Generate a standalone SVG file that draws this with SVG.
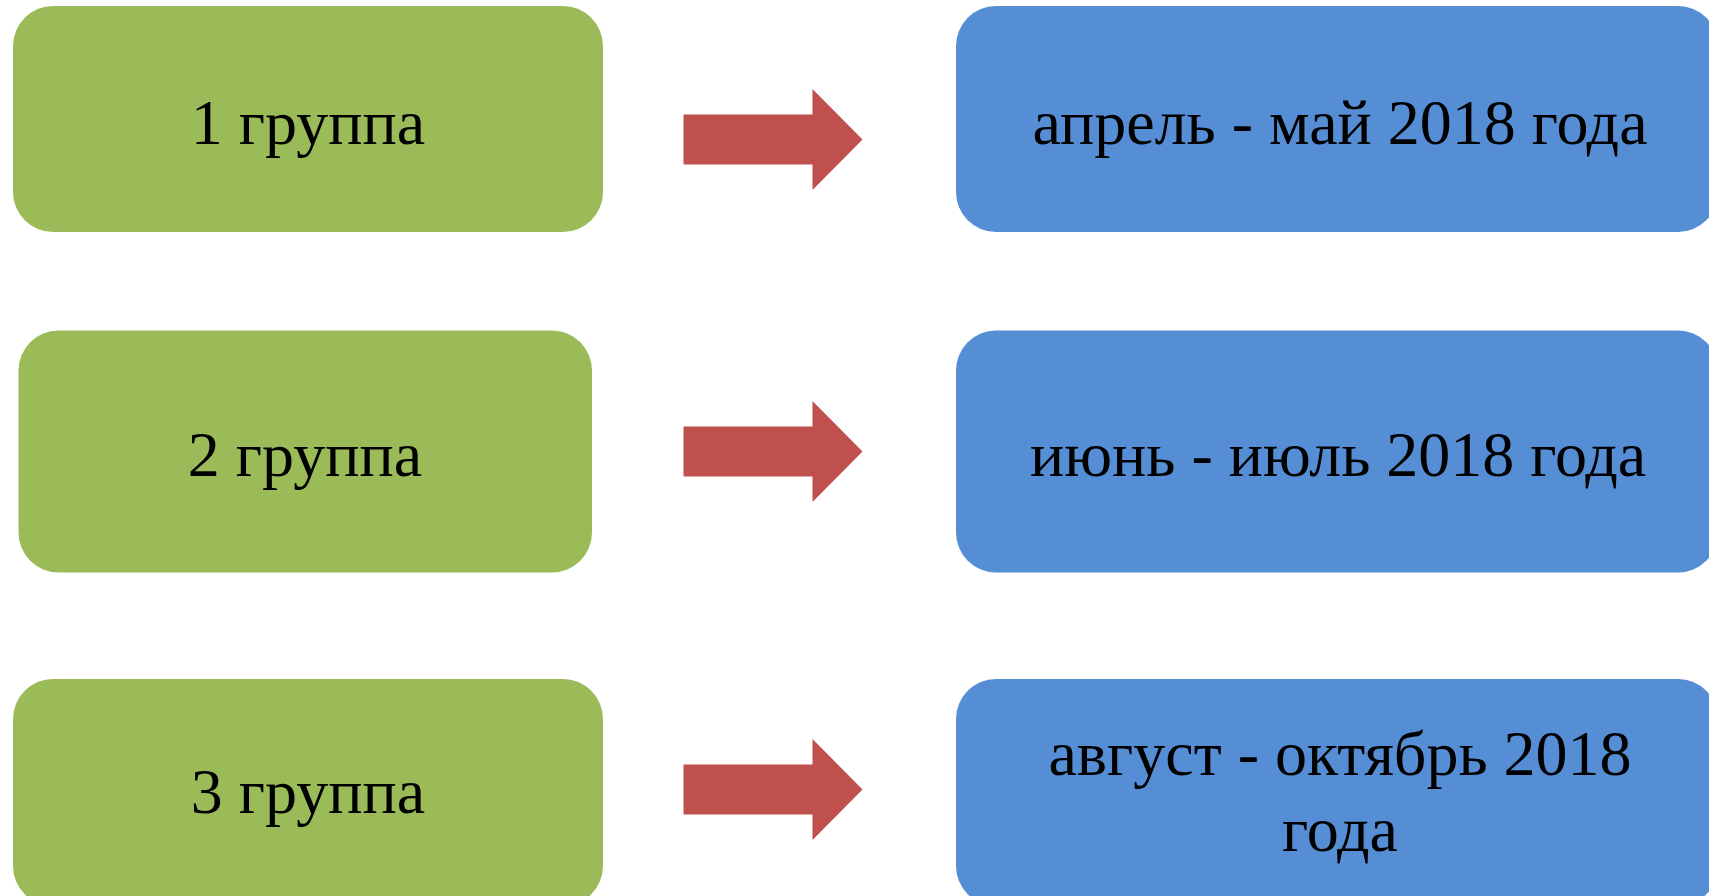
<svg xmlns="http://www.w3.org/2000/svg" width="1709" height="896" viewBox="0 0 1709 896">
<style>
.g{fill:#9BBB59}
.b{fill:#558ED5}
.a{fill:#C0504D}
text{font-family:"Liberation Serif","Times New Roman",serif;font-size:64px;fill:#000;text-anchor:middle}
</style>
<defs>
<path id="arr" d="M0,-25 H129 V-50.5 L179,0 L129,50.5 V25 H0 Z"/>
</defs>
<rect width="1709" height="896" fill="#fff"/>
<g id="g1"><rect class="g" x="13" y="6" width="590" height="226" rx="40"/><text x="308" y="144">1 группа</text></g>
<g id="g2"><rect class="g" x="18.5" y="330.5" width="573.5" height="242" rx="40"/><text x="305" y="476">2 группа</text></g>
<g id="g3"><rect class="g" x="13" y="679" width="590" height="227" rx="40"/><text x="308" y="813">3 группа</text></g>
<g id="b1"><rect class="b" x="956" y="6" width="762" height="226" rx="40"/><text x="1340" y="144">апрель - май 2018 года</text></g>
<g id="b2"><rect class="b" x="956" y="330.5" width="762" height="242" rx="40"/><text x="1338" y="476">июнь - июль 2018 года</text></g>
<g id="b3"><rect class="b" x="956" y="679" width="762" height="227" rx="40"/><text x="1340" y="775">август - октябрь 2018</text><text x="1340" y="851">года</text></g>
<g id="connectors">
<use href="#arr" class="a" x="683.5" y="139.5"/>
<use href="#arr" class="a" x="683.5" y="451.5"/>
<use href="#arr" class="a" x="683.5" y="789.5"/>
</g>
</svg>
